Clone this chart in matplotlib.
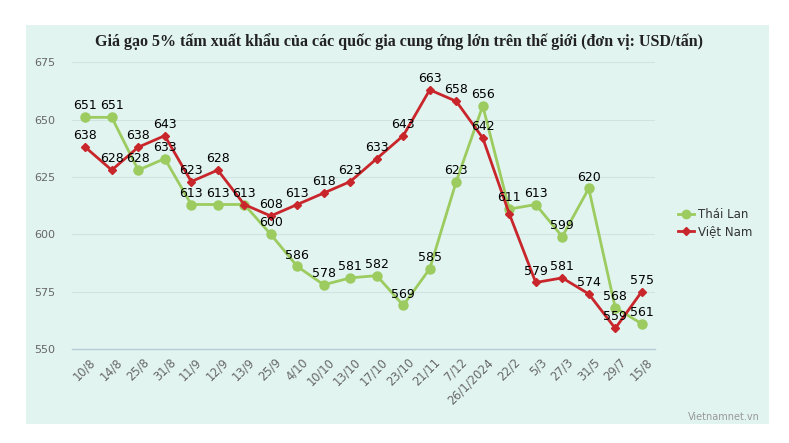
import matplotlib
matplotlib.use("Agg")
import matplotlib.pyplot as plt
from matplotlib.patches import Rectangle
from matplotlib.lines import Line2D
import matplotlib.transforms as mtransforms

categories = ["10/8", "14/8", "25/8", "31/8", "11/9", "12/9", "13/9", "25/9", "4/10",
              "10/10", "13/10", "17/10", "23/10", "21/11", "7/12", "26/1/2024", "22/2",
              "5/3", "27/3", "31/5", "29/7", "15/8"]
thai_lan = [651, 651, 628, 633, 613, 613, 613, 600, 586, 578, 581, 582, 569, 585, 623,
            656, 611, 613, 599, 620, 568, 561]
viet_nam = [638, 628, 638, 643, 623, 628, 613, 608, 613, 618, 623, 633, 643, 663, 658,
            642, 609, 579, 581, 574, 559, 575]
# labels hidden because they overlap another label (as in the original)
viet_nam_hidden_labels = [6, 16]
y_ticks = [550, 575, 600, 625, 650, 675]

title = "Giá gạo 5% tấm xuất khẩu của các quốc gia cung ứng lớn trên thế giới (đơn vị: USD/tấn)"

W, H = 789, 443
fig = plt.figure(figsize=(W / 100, H / 100), dpi=100)
fig.patch.set_facecolor("white")

bg = "#e1f4f0"
fig.patches.append(Rectangle((26 / W, 1 - 424 / H), (769 - 26) / W, (424 - 25) / H,
                             transform=fig.transFigure, facecolor=bg, edgecolor="none", zorder=-5))

ax = fig.add_axes([72 / W, 1 - 349 / H, (655 - 72) / W, (349 - 62.3) / H])
ax.set_facecolor("none")
ax.set_zorder(2)

green = "#9ccb5f"
red = "#c9262c"
x = list(range(len(categories)))

ax.plot(x, thai_lan, color=green, lw=2, marker="o", ms=6.5, zorder=3, clip_on=False)
ax.plot(x, viet_nam, color=red, lw=2, marker="D", ms=4.5, zorder=4, clip_on=False)

lab_kw = dict(textcoords="offset points", ha="center", va="bottom",
              fontsize=9, color="black", zorder=6)
for i, v in enumerate(thai_lan):
    ax.annotate(str(v), (i, v), xytext=(0, 3.5), **lab_kw)
for i, v in enumerate(viet_nam):
    if i in viet_nam_hidden_labels:
        continue
    ax.annotate(str(v), (i, v), xytext=(0, 3.5), **lab_kw)

ax.set_xlim(-0.5, len(categories) - 0.5)
ax.set_ylim(550, 675)
ax.set_yticks(y_ticks)
ax.set_yticklabels([str(t) for t in y_ticks])
ax.grid(axis="y", color="#cfe3e0", lw=0.8)
ax.set_axisbelow(True)
for s in ["top", "right", "left"]:
    ax.spines[s].set_visible(False)
ax.spines["bottom"].set_color("#b8cbd8")
ax.spines["bottom"].set_linewidth(1)
ax.tick_params(axis="y", length=0, labelsize=8, labelcolor="#666666", pad=12)
ax.tick_params(axis="x", length=0, labelsize=8.3, labelcolor="#666666", pad=5)
ax.set_xticks(x)
ax.set_xticklabels(categories, rotation=45, ha="right", rotation_mode="anchor")
offset = mtransforms.ScaledTranslation(4 / 100, 0, fig.dpi_scale_trans)
for lab in ax.get_xticklabels():
    lab.set_transform(lab.get_transform() + offset)

fig.text(399 / W, 1 - 42 / H, title, ha="center", va="center",
         fontsize=11.5, fontweight="bold", family="Liberation Serif", color="#222222")

handles = [Line2D([], [], color=green, lw=2, marker="o", ms=6),
           Line2D([], [], color=red, lw=2, marker="D", ms=4.5)]
leg = fig.legend(handles, ["Thái Lan", "Việt Nam"], loc="center left",
                 bbox_to_anchor=(672 / W, 1 - 223 / H), frameon=False, fontsize=8.5,
                 handlelength=1.4, handletextpad=0.3, labelspacing=0.3, borderpad=0)
for t in leg.get_texts():
    t.set_color("#333333")

fig.text(760 / W, 1 - 417 / H, "Vietnamnet.vn", ha="right", va="center",
         fontsize=7, color="#999999")

fig.savefig("out.png", dpi=100, facecolor=fig.get_facecolor())
